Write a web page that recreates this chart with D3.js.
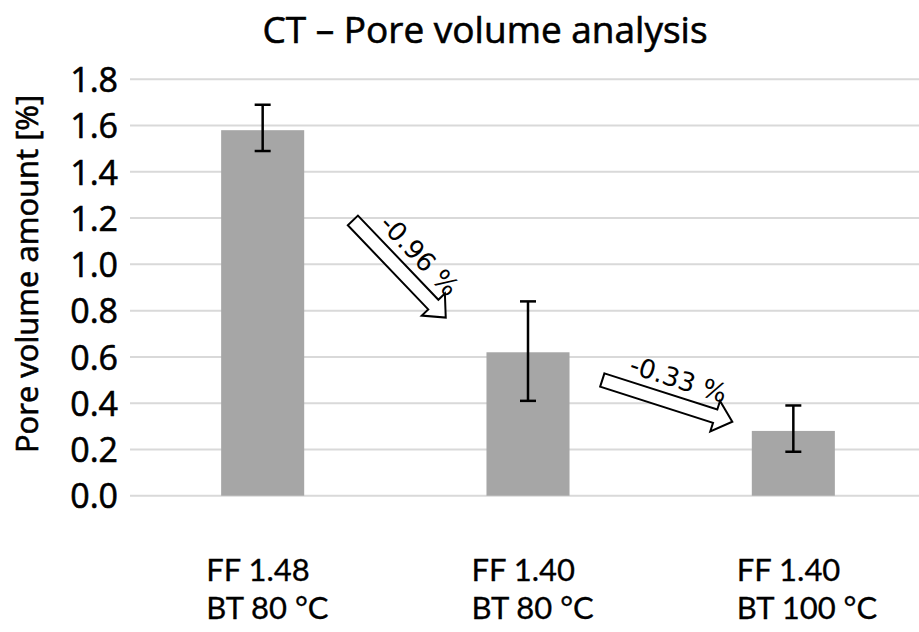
<!DOCTYPE html>
<html>
<head>
<meta charset="utf-8">
<script src="https://cdn.jsdelivr.net/npm/d3@7"></script>
<style>
  body { margin: 0; background: #fff; }
  .heavy { stroke: #000; stroke-width: 0.6px; }
  .semi { stroke: #000; stroke-width: 0.3px; }
</style>
</head>
<body>
<div id="chart"></div>
<script>
// data
var categories = ["FF 1.48|BT 80 °C", "FF 1.40|BT 80 °C", "FF 1.40|BT 100 °C"];
var values = [1.58, 0.62, 0.28];
var errLow = [1.49, 0.41, 0.19];
var errHigh = [1.69, 0.84, 0.39];
var yTicks = [0, 0.2, 0.4, 0.6, 0.8, 1.0, 1.2, 1.4, 1.6, 1.8];
// arrows in (category position, value) units
var arrowFrom = [[0.34, 1.19], [1.28, 0.50]];
var arrowTo = [[0.69, 0.77], [1.77, 0.32]];
var arrowLabels = ["-0.96 %", "-0.33 %"];

var W = 919, H = 632;
var svg = d3.select("#chart").append("svg")
  .attr("width", W)
  .attr("height", H)
  .attr("font-family", "'Open Sans', sans-serif")
  .attr("fill", "#000");

var x = d3.scaleBand()
  .domain(categories)
  .range([130, 926])
  .paddingInner(0.687)
  .paddingOuter(0.3435);

var y = d3.scaleLinear()
  .domain([0, 1.8])
  .range([495.7, 79.3]);

// category position -> pixel (index 0 = centre of first bar)
var xPos = d3.scaleLinear()
  .domain([0, 1])
  .range([x(categories[0]) + x.bandwidth() / 2, x(categories[1]) + x.bandwidth() / 2]);

// grid lines
svg.append("g").selectAll("line")
  .data(yTicks)
  .enter().append("line")
  .attr("x1", 130).attr("x2", W)
  .attr("y1", function(d){ return y(d); })
  .attr("y2", function(d){ return y(d); })
  .attr("stroke", "#d9d9d9")
  .attr("stroke-width", 2);

// y axis labels
var yAxis = d3.axisLeft(y).tickValues(yTicks).tickFormat(d3.format(".1f")).tickSize(0).tickPadding(0);
var ga = svg.append("g").attr("transform", "translate(118,0)").call(yAxis);
ga.select(".domain").remove();
ga.attr("font-family", "'Open Sans', sans-serif").attr("font-size", 34);
ga.selectAll("text")
  .attr("class", "heavy")
  .attr("fill", "#000")
  .attr("dy", "0.36em");

svg.append("text")
  .attr("class", "heavy")
  .attr("transform", "translate(38,274) rotate(-90)")
  .attr("text-anchor", "middle")
  .attr("font-size", 31)
  .text("Pore volume amount [%]");

svg.append("text")
  .attr("class", "heavy")
  .attr("x", 485).attr("y", 43)
  .attr("text-anchor", "middle")
  .attr("font-size", 37)
  .text("CT \u2013 Pore volume analysis");

// bars
svg.append("g").selectAll("rect")
  .data(values)
  .enter().append("rect")
  .attr("x", function(d, i){ return x(categories[i]); })
  .attr("width", x.bandwidth())
  .attr("y", function(d){ return y(d); })
  .attr("height", function(d){ return y(0) - y(d); })
  .attr("fill", "#a6a6a6");

// error bars
var eb = svg.append("g").attr("stroke", "#000").attr("stroke-width", 2.5);
categories.forEach(function(c, i){
  var cx = x(c) + x.bandwidth() / 2;
  eb.append("line").attr("x1", cx).attr("x2", cx).attr("y1", y(errLow[i])).attr("y2", y(errHigh[i]));
  eb.append("line").attr("x1", cx - 8).attr("x2", cx + 8).attr("y1", y(errLow[i])).attr("y2", y(errLow[i]));
  eb.append("line").attr("x1", cx - 8).attr("x2", cx + 8).attr("y1", y(errHigh[i])).attr("y2", y(errHigh[i]));
});

// category labels, two lines each
var labelG = svg.append("g").attr("font-family", "Lato, sans-serif").attr("font-size", 31);
categories.forEach(function(c){
  c.split("|").forEach(function(s, k){
    labelG.append("text")
      .attr("class", "semi")
      .attr("x", x(c) - 15)
      .attr("y", 581 + k * 37.5)
      .text(s);
  });
});

// arrows
arrowFrom.forEach(function(f, i){
  var x0 = xPos(f[0]), y0 = y(f[1]);
  var x1 = xPos(arrowTo[i][0]), y1 = y(arrowTo[i][1]);
  var L = Math.sqrt((x1 - x0) * (x1 - x0) + (y1 - y0) * (y1 - y0));
  var ang = Math.atan2(y1 - y0, x1 - x0) * 180 / Math.PI;
  var h = 7, hw = 16, hl = 18;
  var g = svg.append("g").attr("transform", "translate(" + x0 + "," + y0 + ") rotate(" + ang + ")");
  g.append("path")
    .attr("d", "M0," + (-h) + "L" + (L - hl) + "," + (-h) + "L" + (L - hl) + "," + (-hw) +
      "L" + L + ",0L" + (L - hl) + "," + hw + "L" + (L - hl) + "," + h + "L0," + h + "Z")
    .attr("fill", "#fff")
    .attr("stroke", "#000")
    .attr("stroke-width", 2)
    .attr("stroke-linejoin", "miter");
  g.append("text")
    .attr("x", L / 2 + 4)
    .attr("y", -h - 8)
    .attr("text-anchor", "middle")
    .attr("font-family", "'DejaVu Sans', sans-serif")
    .attr("font-size", 26)
    .text(arrowLabels[i]);
});
</script>
</body>
</html>
